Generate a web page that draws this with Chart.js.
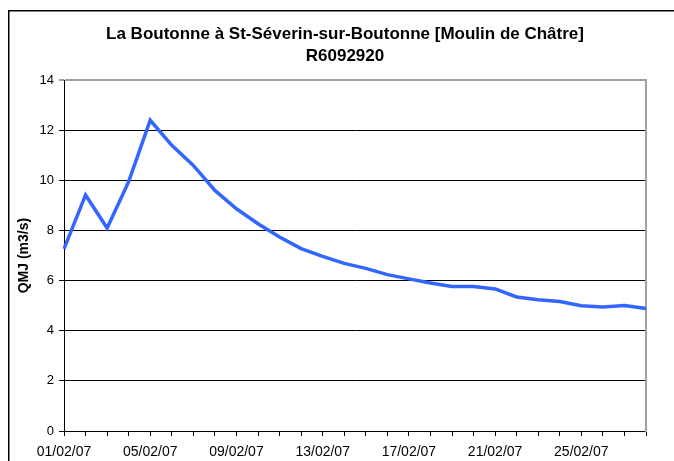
<!DOCTYPE html>
<html><head><meta charset="utf-8">
<style>html,body{margin:0;padding:0;background:#fff;}#wrap{position:relative;width:674px;height:461px;}</style>
<script src="https://cdn.jsdelivr.net/npm/chart.js@4/dist/chart.umd.min.js"></script>
</head><body><div id="wrap"><canvas id="c" width="674" height="461"></canvas></div>
<script>
const titleLines = ["La Boutonne à St-Séverin-sur-Boutonne [Moulin de Châtre]", "R6092920"];
const yAxisTitle = "QMJ (m3/s)";
const dates = ["01/02/07","02/02/07","03/02/07","04/02/07","05/02/07","06/02/07","07/02/07","08/02/07","09/02/07","10/02/07","11/02/07","12/02/07","13/02/07","14/02/07","15/02/07","16/02/07","17/02/07","18/02/07","19/02/07","20/02/07","21/02/07","22/02/07","23/02/07","24/02/07","25/02/07","26/02/07","27/02/07","28/02/07"];
const qmj = [7.27, 9.42, 8.1, 9.95, 12.4, 11.4, 10.6, 9.6, 8.87, 8.27, 7.74, 7.28, 6.97, 6.69, 6.49, 6.24, 6.07, 5.91, 5.77, 5.77, 5.67, 5.35, 5.24, 5.17, 5.0, 4.95, 5.01, 4.89];
const yMin = 0, yMax = 14, yStep = 2;
const labelEvery = 4;

const FONT = "'Liberation Sans', Arial, sans-serif";

const frame = {
  id: 'frame',
  beforeDraw(chart) {
    const ctx = chart.ctx;
    ctx.save(); ctx.fillStyle = '#fff'; ctx.fillRect(0, 0, chart.width, chart.height); ctx.restore();
  },
  afterDraw(chart) {
    const ctx = chart.ctx;
    ctx.save();
    ctx.strokeStyle = '#000'; ctx.lineWidth = 1.5;
    ctx.strokeRect(8.75, 10.75, 720, 520);
    ctx.restore();
  }
};

new Chart(document.getElementById('c'), {
  type: 'line',
  data: {
    labels: dates,
    datasets: [{
      data: qmj,
      borderColor: '#3366FF',
      borderWidth: 3.5,
      pointRadius: 0,
      tension: 0,
      fill: false
    }]
  },
  options: {
    responsive: false,
    animation: false,
    devicePixelRatio: 1,
    layout: { padding: { left: 16, right: 0, top: 0, bottom: 0 } },
    plugins: {
      legend: { display: false },
      tooltip: { enabled: false },
      title: {
        display: true,
        text: titleLines,
        color: '#000',
        font: { family: FONT, size: 17, weight: 'bold', lineHeight: 1.3 },
        padding: { top: 23, bottom: 13 }
      }
    },
    scales: {
      x: {
        type: 'category',
        offset: false,
        grid: { drawOnChartArea: false, drawTicks: true, tickLength: 5, color: '#000' },
        border: { color: '#000', width: 1 },
        ticks: {
          autoSkip: false, maxRotation: 0, minRotation: 0, padding: 8,
          color: '#000', font: { family: FONT, size: 14 },
          callback: (v, i) => (i % labelEvery === 0 ? dates[i] : '')
        },
        afterFit(s) { s.height = 30; }
      },
      y: {
        min: yMin, max: yMax,
        ticks: { stepSize: yStep, padding: 5, color: '#000', font: { family: FONT, size: 13 } },
        grid: {
          tickLength: 5,
          color: (c) => (c.tick && c.tick.value === yMax ? '#a0a0a0' : '#000'),
          lineWidth: (c) => (c.tick && c.tick.value === yMax ? 2 : 1)
        },
        border: { color: '#000', width: 1 },
        title: {
          display: true, text: yAxisTitle, color: '#000',
          font: { family: FONT, size: 14, weight: 'bold' },
          padding: { top: 0, bottom: 0 }
        },
        afterFit(s) { s.width = 48; }
      },
      y2: {
        position: 'right',
        min: yMin, max: yMax,
        ticks: { display: false },
        grid: { drawOnChartArea: false, drawTicks: false },
        border: { color: '#a0a0a0', width: 2 },
        afterFit(s) { s.width = 28; }
      }
    }
  },
  plugins: [frame]
});
</script>
</body></html>
